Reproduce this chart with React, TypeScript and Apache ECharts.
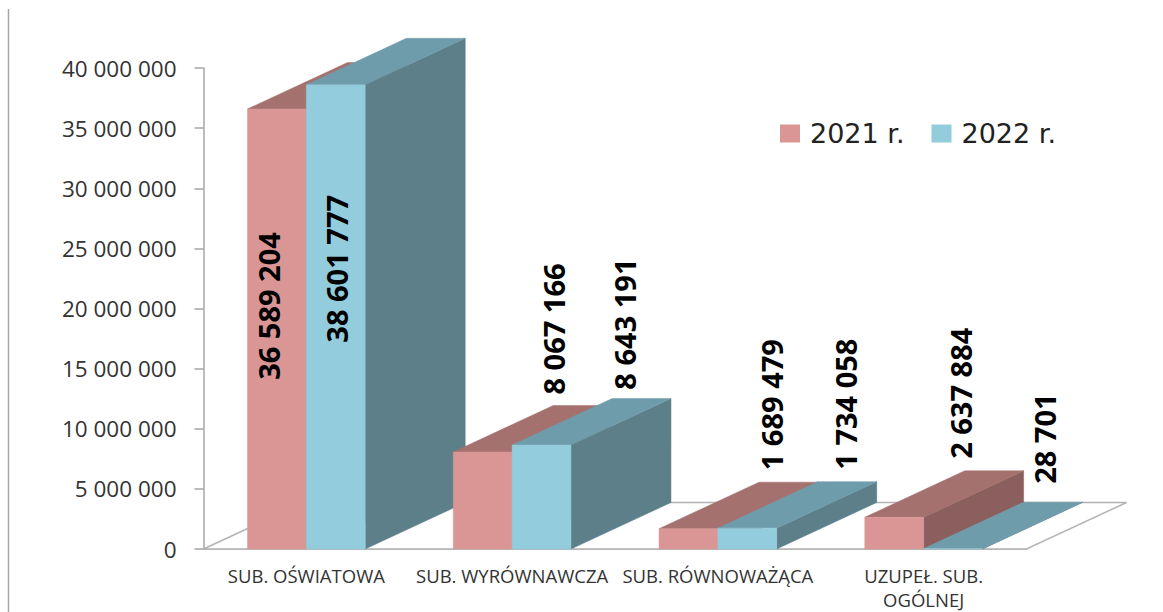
import React, { useEffect, useRef } from "react";
import * as echarts from "echarts";

const categories = ["SUB. OŚWIATOWA", "SUB. WYRÓWNAWCZA", "SUB. RÓWNOWAŻĄCA", "UZUPEŁ. SUB.\nOGÓLNEJ"];
const values2021 = [36589204, 8067166, 1689479, 2637884];
const values2022 = [38601777, 8643191, 1734058, 28701];
const yMax = 40000000;
const yStep = 5000000;

// Layout only: manual data-label displacement from each bar's front-top centre, as in the source.
const labelShift2021 = [[-8, 197], [71, -123], [83, -124], [66, -124]];
const labelShift2022 = [[1, 184], [83, -121], [98, -124], [91, -110]];

const DEPTH_X = 100;
const DEPTH_Y = 46.5;
const BAR_RATIO = 0.286;
const FONT = "'Open Sans', sans-serif";

const fmt = (v: number) => String(v).replace(/\B(?=(\d{3})+(?!\d))/g, " ");

const pal = [
  { front: "#D99694", top: "#A5716F", side: "#8B5F5E" },
  { front: "#93CDDD", top: "#6F9CAB", side: "#5D7F8A" },
];

function barSeries(name: string, values: number[], shifts: number[][], idx: number) {
  const c = pal[idx];
  return {
    type: "custom",
    name,
    coordinateSystem: "cartesian2d",
    clip: false,
    itemStyle: { color: c.front },
    encode: { x: 0, y: 1 },
    data: values.map((v, i) => [i, v]),
    renderItem: (_p: any, api: any) => {
      const cat = api.value(0);
      const val = api.value(1);
      const [cx, yTop] = api.coord([cat, val]);
      const yBase = api.coord([cat, 0])[1];
      const w = api.size([1, 0])[0] * BAR_RATIO;
      const x0 = cx - w + idx * w;
      const x1 = x0 + w;
      const z2 = (cat + 1) * 10 + idx * 3;
      const poly = (points: number[][], fill: string, z: number) => ({
        type: "polygon",
        z2: z2 + z,
        shape: { points },
        style: { fill, stroke: fill, lineWidth: 0.5 },
      });
      const s = shifts[cat];
      return {
        type: "group",
        children: [
          poly([[x1, yBase], [x1 + DEPTH_X, yBase - DEPTH_Y], [x1 + DEPTH_X, yTop - DEPTH_Y], [x1, yTop]], c.side, 0),
          poly([[x0, yTop], [x1, yTop], [x1 + DEPTH_X, yTop - DEPTH_Y], [x0 + DEPTH_X, yTop - DEPTH_Y]], c.top, 1),
          poly([[x0, yBase], [x1, yBase], [x1, yTop], [x0, yTop]], c.front, 2),
          {
            type: "text",
            z2: 200,
            x: (x0 + x1) / 2 + s[0],
            y: yTop + s[1],
            rotation: Math.PI / 2,
            style: {
              text: fmt(val),
              fontFamily: FONT,
              fontSize: 29,
              fontWeight: 700,
              fill: "#000",
              align: "center",
              verticalAlign: "middle",
            },
          },
        ],
      };
    },
  };
}

const floorSeries = {
  type: "custom",
  coordinateSystem: "cartesian2d",
  clip: false,
  silent: true,
  encode: { x: 0, y: 1 },
  data: [[0, 0]],
  renderItem: (_p: any, api: any) => {
    const w = api.size([1, 0])[0];
    const left = api.coord([0, 0]);
    const xL = left[0] - w / 2;
    const xR = xL + w * categories.length;
    const y = left[1];
    return {
      type: "polygon",
      z2: 1,
      shape: {
        points: [[xL, y], [xL + DEPTH_X, y - DEPTH_Y], [xR + DEPTH_X, y - DEPTH_Y], [xR, y]],
      },
      style: { fill: "#fff", stroke: "#b3b3b3", lineWidth: 1.5 },
    };
  },
};

export default function App() {
  const ref = useRef<HTMLDivElement>(null);
  useEffect(() => {
    const chart = echarts.init(ref.current!, null, { renderer: "svg" });
    chart.setOption({
      animation: false,
      backgroundColor: "#fff",
      grid: { left: 203.5, top: 68, width: 823, height: 481 },
      legend: {
        left: 780,
        top: 120,
        padding: 0,
        itemWidth: 20,
        itemHeight: 18,
        itemGap: 27,
        icon: "rect",
        data: ["2021 r.", "2022 r."],
        textStyle: { fontFamily: "'DejaVu Sans', sans-serif", fontSize: 27, color: "#222", padding: [0, 0, 0, 5] },
      },
      xAxis: {
        type: "category",
        data: categories,
        axisLine: { lineStyle: { color: "#a6a6a6", width: 1.5 } },
        axisTick: { length: 6, lineStyle: { color: "#a6a6a6", width: 1.5 } },
        axisLabel: { interval: 0, margin: 14, fontFamily: FONT, fontSize: 18.5, color: "#333", lineHeight: 24 },
      },
      yAxis: {
        type: "value",
        min: 0,
        max: yMax,
        interval: yStep,
        axisLine: { show: true, lineStyle: { color: "#a6a6a6", width: 1.5 } },
        axisTick: { show: true, length: 9, lineStyle: { color: "#a6a6a6", width: 1.5 } },
        splitLine: { show: false },
        axisLabel: { margin: 27, fontFamily: FONT, fontSize: 22.5, color: "#333", formatter: (v: number) => fmt(v) },
      },
      graphic: [
        { type: "line", shape: { x1: 8.5, y1: 9, x2: 8.5, y2: 612 }, style: { stroke: "#a6a6a6", lineWidth: 1.5 } },
      ],
      series: [
        floorSeries,
        barSeries("2021 r.", values2021, labelShift2021, 0),
        barSeries("2022 r.", values2022, labelShift2022, 1),
      ],
    });
    return () => chart.dispose();
  }, []);
  return <div ref={ref} style={{ position: "absolute", left: 0, top: 0, width: 1163, height: 612 }} />;
}
